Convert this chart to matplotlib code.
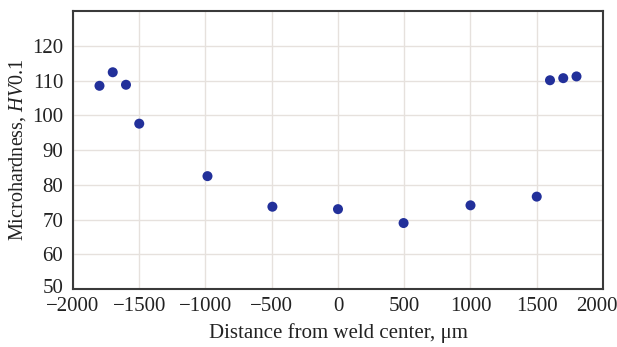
import matplotlib
matplotlib.use("Agg")
import matplotlib.pyplot as plt
from matplotlib.transforms import ScaledTranslation

distance_um = [-1800, -1700, -1600, -1500, -985, -495, 0, 495, 1000, 1500, 1600, 1700, 1800]
hardness_hv = [108.5, 112.4, 108.8, 97.6, 82.5, 73.7, 73.0, 69.0, 74.1, 76.6, 110.1, 110.7, 111.2]
x_ticks = [-2000, -1500, -1000, -500, 0, 500, 1000, 1500, 2000]
y_ticks = [50, 60, 70, 80, 90, 100, 110, 120]

plt.rcParams['font.family'] = ['Liberation Serif', 'DejaVu Serif']
plt.rcParams['mathtext.fontset'] = 'custom'
plt.rcParams['mathtext.rm'] = 'Liberation Serif'
plt.rcParams['mathtext.it'] = 'Liberation Serif:italic'

fig = plt.figure(figsize=(6.17, 3.47), dpi=100)
ax = fig.add_axes([0.1183, 0.167, 0.859, 0.801])

ax.scatter(distance_um, hardness_hv, s=52, color='#22309a', zorder=3, edgecolors='none')

ax.set_xlim(-2000, 2000)
ax.set_ylim(50, 130)
ax.set_xticks(x_ticks)
ax.set_yticks(y_ticks)
ax.set_xticklabels([f"{t}".replace('-', '\u2212') for t in x_ticks])
ax.grid(True, color='#e6e1dd', linewidth=1.0, zorder=0)
ax.tick_params(length=0, labelsize=15, colors='#222222')
ax.tick_params(axis='x', pad=6)
ax.tick_params(axis='y', pad=7)
for sp in ax.spines.values():
    sp.set_color('#3a3a3a')
    sp.set_linewidth(1.5)

# nudge the last x tick label so it stays inside the figure
last = ax.get_xticklabels()[-1]
last.set_transform(last.get_transform() + ScaledTranslation(-6 / 100, 0, fig.dpi_scale_trans))
# nudge the lowest y tick label up slightly so it clears the x labels
first_y = ax.get_yticklabels()[0]
first_y.set_transform(first_y.get_transform() + ScaledTranslation(0, 3 / 100, fig.dpi_scale_trans))

ax.set_xlabel('Distance from weld center, \u03bcm', fontsize=15, color='#222222', labelpad=5)
ax.set_ylabel('Microhardness, $\\mathit{HV}$0.1', fontsize=14.5, color='#222222', labelpad=3)

fig.savefig('out.png', dpi=100)
